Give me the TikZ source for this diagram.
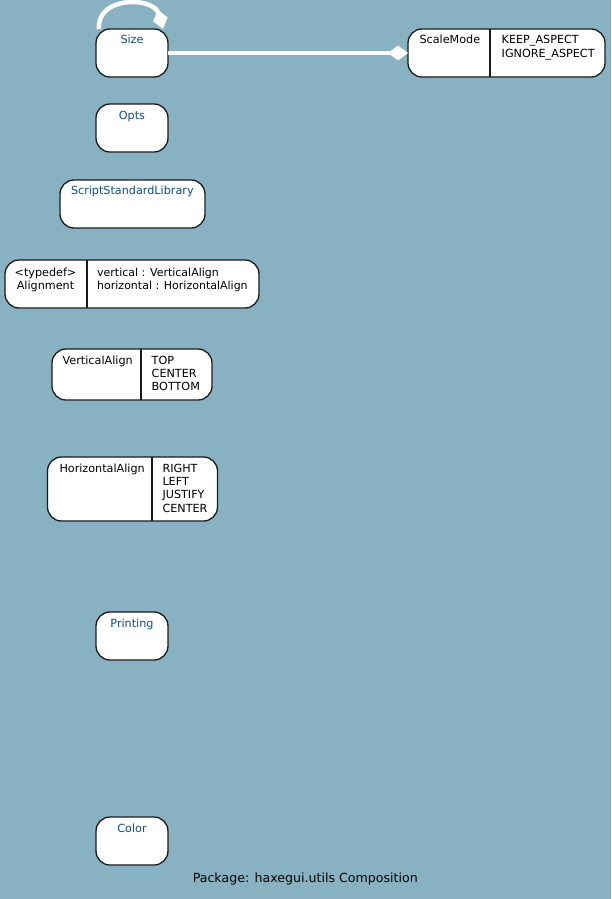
\documentclass[tikz,border=0pt]{standalone}
\usepackage{fontspec}
\setmainfont{DejaVu Sans}
\usetikzlibrary{arrows.meta}
\definecolor{canvas}{HTML}{88B2C1}
\definecolor{linkblue}{HTML}{104E8B}
\definecolor{rim}{HTML}{1A1A1A}
\newcommand\txtlines[1]{\begin{tabular}[t]{@{}l@{}}#1\end{tabular}}
\begin{document}
\begin{tikzpicture}[x=1pt,y=-1pt,
  box/.style={draw=rim, fill=white, line width=1.3pt, rounded corners=14pt,
    anchor=north west, inner sep=0pt, outer sep=0pt},
  divider/.style={draw=rim, line width=1.3pt},
  lbl/.style={inner sep=0pt, font=\fontsize{11.2}{13.4}\selectfont},
  cls/.style={lbl, text=linkblue, anchor=base},
  txt/.style={lbl, text=black, anchor=base west},
  link/.style={draw=white, line width=4.5pt,
    -{Diamond[length=20pt, width=15pt, line width=0pt, fill=white]}}]
  % canvas
  \fill[canvas] (0,0) rectangle (611,899);
  \useasboundingbox (0,0) rectangle (611,899);

  % boxes
  \node[box, minimum width=72pt, minimum height=48pt] (size) at (96,29) {};
  \node[box, minimum width=197pt, minimum height=48pt] (scalemode) at (408,29) {};
  \node[box, minimum width=72pt, minimum height=48pt] (opts) at (96,104) {};
  \node[box, minimum width=145pt, minimum height=48pt] (ssl) at (60,180) {};
  \node[box, minimum width=254pt, minimum height=48pt] (align) at (5,260) {};
  \node[box, minimum width=160pt, minimum height=51pt] (valign) at (52,349) {};
  \node[box, minimum width=170pt, minimum height=64pt] (halign) at (47.5,457) {};
  \node[box, minimum width=72pt, minimum height=48pt] (printing) at (96,612) {};
  \node[box, minimum width=72pt, minimum height=48pt] (color) at (96,817) {};

  % compartment dividers
  \draw[divider] ([xshift=82pt]scalemode.north west) -- ([xshift=82pt]scalemode.south west);
  \draw[divider] ([xshift=82pt]align.north west) -- ([xshift=82pt]align.south west);
  \draw[divider] ([xshift=89pt]valign.north west) -- ([xshift=89pt]valign.south west);
  \draw[divider] ([xshift=104.5pt]halign.north west) -- ([xshift=104.5pt]halign.south west);

  % class names
  \node[cls] (sizet) at (132,44) {Size};
  \node[cls] (optst) at (132,119) {Opts};
  \node[cls] (sslt) at (132.3,194) {ScriptStandardLibrary};
  \node[cls] (printingt) at (132,627) {Printing};
  \node[cls] (colort) at (132,832) {Color};

  % enum and typedef compartments
  \node[txt] (smname) at (419.3,44) {ScaleMode};
  \node[txt] (smvals) at (501.5,44) {\txtlines{KEEP\_ASPECT\\IGNORE\_ASPECT}};
  \node[lbl, anchor=base] (alname) at (45.5,276) {\begin{tabular}[t]{@{}c@{}}<typedef>\\Alignment\end{tabular}};
  \node[txt, font=\fontsize{11}{13.2}\selectfont] (alvals) at (97,276) {\txtlines{vertical : VerticalAlign\\horizontal : HorizontalAlign}};
  \node[txt] (vaname) at (62.5,364) {VerticalAlign};
  \node[txt] (vavals) at (151.5,364) {\txtlines{TOP\\CENTER\\BOTTOM}};
  \node[txt] (haname) at (59.3,472) {HorizontalAlign};
  \node[txt] (havals) at (162.3,472) {\txtlines{RIGHT\\LEFT\\JUSTIFY\\CENTER}};

  % composition links
  \draw[link] ([xshift=3pt]size.north west) .. controls (96,-4) and (154,-4) .. ([xshift=-5pt]size.north east);
  \draw[link] (size.east) -- (scalemode.west);

  % caption
  \node[lbl, anchor=base, font=\fontsize{12.6}{15}\selectfont] (caption) at (305.3,882) {Package: haxegui.utils Composition};
\end{tikzpicture}
\end{document}
